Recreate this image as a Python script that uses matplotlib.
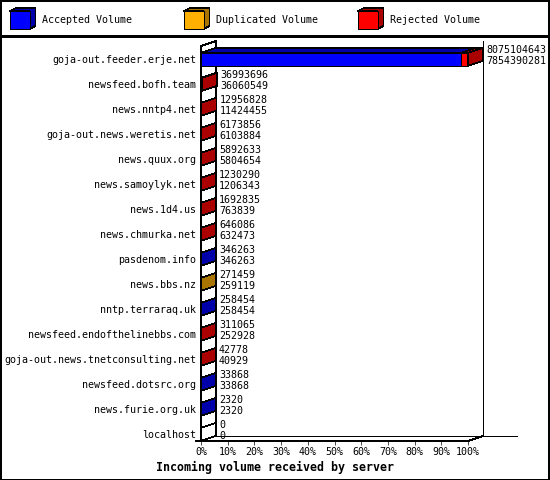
import matplotlib
matplotlib.use("Agg")
import matplotlib.pyplot as plt
from matplotlib.patches import Polygon, Rectangle
from matplotlib.lines import Line2D

# ---- data -------------------------------------------------------------
servers = [
    "goja-out.feeder.erje.net",
    "newsfeed.bofh.team",
    "news.nntp4.net",
    "goja-out.news.weretis.net",
    "news.quux.org",
    "news.samoylyk.net",
    "news.1d4.us",
    "news.chmurka.net",
    "pasdenom.info",
    "news.bbs.nz",
    "nntp.terraraq.uk",
    "newsfeed.endofthelinebbs.com",
    "goja-out.news.tnetconsulting.net",
    "newsfeed.dotsrc.org",
    "news.furie.org.uk",
    "localhost",
]
total_volume = [8075104643, 36993696, 12956828, 6173856, 5892633, 1230290,
                1692835, 646086, 346263, 271459, 258454, 311065, 42778,
                33868, 2320, 0]
accepted_volume = [7854390281, 36060549, 11424455, 6103884, 5804654, 1206343,
                   763839, 632473, 346263, 259119, 258454, 252928, 40929,
                   33868, 2320, 0]
duplicated_volume = [0, 0, 0, 0, 0, 0, 0, 0, 0, 12340, 0, 0, 0, 0, 0, 0]
rejected_volume = [t - a - d for t, a, d in
                   zip(total_volume, accepted_volume, duplicated_volume)]

series_names = ["Accepted Volume", "Duplicated Volume", "Rejected Volume"]
front_colors = ["#0000FF", "#FFB000", "#FF0000"]
shade_colors = ["#0000AA", "#AA7400", "#AA0000"]
x_ticks = list(range(0, 101, 10))
x_title = "Incoming volume received by server"

MONO = "DejaVu Sans Mono"
FS = 7.2
plt.rcParams["patch.antialiased"] = False
plt.rcParams["lines.antialiased"] = False

# ---- figure geometry (pixels) ----------------------------------------
W, H = 550, 480
PX_LEFT, PX_RIGHT, PX_TOP, PX_FLOOR = 201, 517, 36, 441
PX_PER_PCT = 2.67
ROW_PITCH, ROW0 = 25.0, 59.3
DEPTH_X, DEPTH_Y, BAR_H = 15, 5, 13

fig = plt.figure(figsize=(W / 100, H / 100), dpi=100)
fig.patch.set_facecolor("white")

ax = fig.add_axes([PX_LEFT / W, (H - PX_FLOOR) / H,
                   (PX_RIGHT - PX_LEFT) / W, (PX_FLOOR - PX_TOP) / H])
x_max = (PX_RIGHT - PX_LEFT) / PX_PER_PCT
y_floor = (PX_FLOOR - ROW0) / ROW_PITCH
y_top = (PX_TOP - ROW0) / ROW_PITCH
ax.set_xlim(0, x_max)
ax.set_ylim(y_floor, y_top)
for sp in ax.spines.values():
    sp.set_visible(False)

ddx = DEPTH_X / PX_PER_PCT
ddy = DEPTH_Y / ROW_PITCH
h = BAR_H / 2 / ROW_PITCH
lw = 0.5

# walls and floor
wall_top = (46 - ROW0) / ROW_PITCH
wall_kw = dict(color="black", lw=lw, zorder=1, clip_on=False)
ax.plot([0, 0, ddx, ddx], [y_floor, wall_top, wall_top - ddy, y_floor - ddy], **wall_kw)
ax.plot([100 + ddx, 100 + ddx], [wall_top - ddy, y_floor - ddy], **wall_kw)
ax.plot([ddx, x_max], [y_floor - ddy, y_floor - ddy], **wall_kw)
ax.plot([-5 / PX_PER_PCT, 0, 100, 100 + ddx],
        [y_floor, y_floor, y_floor, y_floor - ddy],
        color="black", lw=lw, zorder=4, clip_on=False)

# bars
scale = 100.0 / max(total_volume)
for i, name in enumerate(servers):
    segs = [accepted_volume[i], duplicated_volume[i], rejected_volume[i]]
    cum = 0.0
    last = None
    for k, v in enumerate(segs):
        w = v * scale
        if v <= 0:
            continue
        ax.barh(i, w, left=cum, height=2 * h, color=front_colors[k],
                edgecolor="black", linewidth=lw, zorder=2)
        top = [(cum, i - h), (cum + ddx, i - h - ddy),
               (cum + w + ddx, i - h - ddy), (cum + w, i - h)]
        ax.add_patch(Polygon(top, closed=True, facecolor=shade_colors[k],
                             edgecolor="black", linewidth=lw, zorder=2))
        cum += w
        last = k
    side = [(cum, i - h), (cum + ddx, i - h - ddy),
            (cum + ddx, i + h - ddy), (cum, i + h)]
    ax.add_patch(Polygon(side, closed=True,
                         facecolor=shade_colors[last] if last is not None else "white",
                         edgecolor="black", linewidth=lw, zorder=3))
    tx = cum + ddx + 3 / PX_PER_PCT
    ax.text(tx, i - 0.37, f"{total_volume[i]}", ha="left", va="center",
            family=MONO, fontsize=FS, zorder=5)
    ax.text(tx, i + 0.056, f"{accepted_volume[i]}", ha="left", va="center",
            family=MONO, fontsize=FS, zorder=5)

ax.set_yticks(range(len(servers)))
ax.set_yticklabels(servers, family=MONO, fontsize=FS)
ax.tick_params(axis="y", length=0, pad=3.6)
ax.set_xticks(x_ticks)
ax.set_xticklabels([f"{t}%" for t in x_ticks], family=MONO, fontsize=FS)
ax.tick_params(axis="x", direction="out", length=2.9, width=0.5, pad=1.2)

fig.text(275 / W, 1 - 467 / H, x_title, ha="center", va="center",
         family=MONO, fontsize=8.4, fontweight="bold")

# legend strip
lg = fig.add_axes([0, 1 - 35 / H, 1, 35 / H])
lg.set_xlim(0, W)
lg.set_ylim(35, 0)
lg.axis("off")
cube_x = [10, 184, 358]
for k, name in enumerate(series_names):
    x0 = cube_x[k]
    y0, y1, cw, cdx, cdy = 11, 29, 19.5, 6, 3
    lg.add_patch(Polygon([(x0, y0), (x0 + cdx, y0 - cdy), (x0 + cw + cdx, y0 - cdy),
                          (x0 + cw + cdx, y1 - cdy), (x0 + cw, y1), (x0 + cw, y0)],
                         closed=True, facecolor=shade_colors[k],
                         edgecolor="black", linewidth=lw))
    lg.add_patch(Rectangle((x0, y0), cw, y1 - y0, facecolor=front_colors[k],
                           edgecolor="black", linewidth=lw))
    lg.text(x0 + 32, 20, name, ha="left", va="center", family=MONO, fontsize=FS)

# outer frame and header separator
fig.add_artist(Line2D([0, 1], [1 - 35.5 / H, 1 - 35.5 / H], color="black",
                      lw=1.0, transform=fig.transFigure))
fig.add_artist(Rectangle((0.5 / W, 0.5 / H), 1 - 1.5 / W, 1 - 1.5 / H,
                         transform=fig.transFigure, fill=False,
                         edgecolor="black", linewidth=1.2))

fig.savefig("out.png", dpi=100)
